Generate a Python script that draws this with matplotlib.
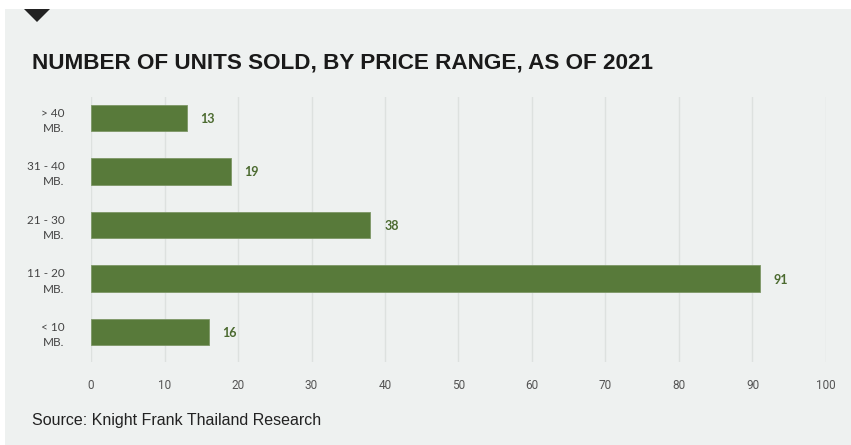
import matplotlib.pyplot as plt
from matplotlib.patches import Rectangle, Polygon

# data
categories = ['< 10\nMB.', '11 - 20\nMB.', '21 - 30\nMB.', '31 - 40\nMB.', '> 40\nMB.']
units_sold = [16, 91, 38, 19, 13]
x_ticks = [0, 10, 20, 30, 40, 50, 60, 70, 80, 90, 100]

W, H = 851, 445
BG = '#eef1f0'
BAR = '#587a3a'
LABEL = '#4b6a2f'

fig = plt.figure(figsize=(W / 100, H / 100), dpi=100)
fig.patch.set_facecolor('white')

# panel background + marker triangle
fig.patches.append(Rectangle((5 / W, 0), 1 - 5 / W, 1 - 9 / H, transform=fig.transFigure,
                             facecolor=BG, edgecolor='none', zorder=-2))
fig.patches.append(Polygon([(24 / W, 1 - 9 / H), (50 / W, 1 - 9 / H), (37 / W, 1 - 22 / H)],
                           closed=True, transform=fig.transFigure,
                           facecolor='#222222', edgecolor='none', zorder=-1))

left, right = 91 / W, 826 / W
top, bottom = 1 - 97 / H, 1 - 362 / H
ax = fig.add_axes([left, bottom, right - left, top - bottom])
ax.set_facecolor('none')
ax.set_zorder(2)

y = list(range(len(categories)))
ax.barh(y, units_sold, height=0.49, color=BAR, edgecolor='#7d9766', linewidth=0.6, zorder=3)
for yi, v in zip(y, units_sold):
    ax.text(v + 1.9, yi - 0.02, str(v), va='center', ha='left', fontsize=9,
            fontweight='bold', color=LABEL, family='Lato')

ax.set_xlim(0, 100)
ax.set_ylim(-0.56, 4.39)
ax.set_xticks(x_ticks)
ax.set_xticklabels([str(t) for t in x_ticks], fontsize=8.5, color='#555555', family='Roboto')
ax.set_yticks(y)
ax.set_yticklabels(categories, fontsize=8.5, color='#444444', family='Lato',
                   ha='right', linespacing=1.45)
ax.tick_params(axis='x', length=0, pad=12)
ax.tick_params(axis='y', length=0, pad=19)
ax.grid(axis='x', color='#dde1df', linewidth=1, zorder=0)
ax.set_axisbelow(True)
for s in ax.spines.values():
    s.set_visible(False)

fig.text(32 / W, 1 - 63 / H, 'NUMBER OF UNITS SOLD, BY PRICE RANGE, AS OF 2021',
         fontsize=16.2, fontweight='bold', color='#1a1a1a', family='Liberation Sans',
         va='center', ha='left')
fig.text(32 / W, 1 - 421 / H, 'Source: Knight Frank Thailand Research',
         fontsize=11.5, color='#222222', family='Liberation Sans', va='center', ha='left')

fig.savefig('out.png', dpi=100, facecolor=fig.get_facecolor())
